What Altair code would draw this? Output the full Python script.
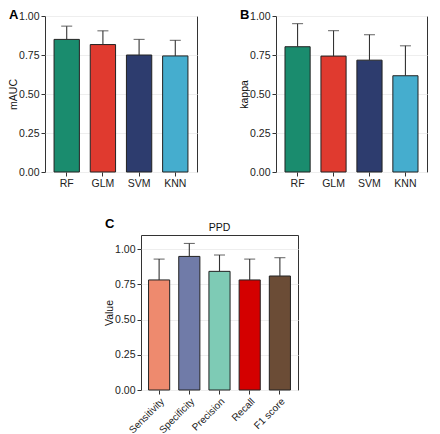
import altair as alt
import pandas as pd

# ---- data ----
models = ["RF", "GLM", "SVM", "KNN"]
model_colors = ["#1A8C6E", "#E03A2F", "#2D3C6E", "#45ADCE"]
mauc = [0.850, 0.817, 0.750, 0.744]
mauc_sd = [0.085, 0.088, 0.100, 0.100]
kappa = [0.803, 0.743, 0.717, 0.617]
kappa_sd = [0.148, 0.163, 0.163, 0.192]

metrics = ["Sensitivity", "Specificity", "Precision", "Recall", "F1 score"]
metric_colors = ["#EE8A6E", "#707BA8", "#7ECBB5", "#D40000", "#6B4C36"]
ppd = [0.781, 0.948, 0.842, 0.781, 0.809]
ppd_sd = [0.148, 0.092, 0.116, 0.148, 0.130]

y_ticks = [0, 0.25, 0.5, 0.75, 1.0]
FONT = "Liberation Sans"


def panel(cats, colors, vals, sds, ytitle, ydomain, letter, width, height,
          label_angle=0, title=None, xlabel_size=10.5):
    df = pd.DataFrame({"cat": cats, "value": vals, "sd": sds, "col": colors})
    df["upper"] = df["value"] + df["sd"]
    xscale = alt.Scale(paddingInner=0.3, paddingOuter=0.25)
    xaxis = alt.Axis(labelAngle=label_angle, grid=False, title=None,
                     labelFontSize=xlabel_size)
    xenc = alt.X("cat:N", sort=cats, title=None, scale=xscale, axis=xaxis)
    yscale = alt.Scale(domain=ydomain, nice=False, zero=True)
    yaxis = alt.Axis(values=y_ticks, format=".2f", title=ytitle, titlePadding=0,
                     labelOverlap=False, tickCount=5)
    base = alt.Chart(df)
    bars = base.mark_bar(stroke="#222222", strokeWidth=1).encode(
        x=xenc,
        y=alt.Y("value:Q", scale=yscale, axis=yaxis, title=ytitle),
        color=alt.Color("col:N", scale=None),
    )
    err = base.mark_rule(color="#333333", strokeWidth=1.1).encode(
        x=xenc, y=alt.Y("value:Q", scale=yscale, axis=yaxis, title=ytitle), y2="upper:Q")
    cap = base.mark_tick(orient="horizontal", size=11, thickness=1.1, color="#333333").encode(
        x=xenc, y=alt.Y("upper:Q", scale=yscale, axis=yaxis, title=ytitle))
    lab = alt.Chart(pd.DataFrame({"t": [letter]})).mark_text(
        align="left", baseline="top", fontSize=13, fontWeight="bold",
        font=FONT, color="#000000").encode(
        x=alt.value(-36), y=alt.value(-7 if title is None else -17), text="t:N")
    layers = [bars, err, cap, lab]
    if title is not None:
        ttl = alt.Chart(pd.DataFrame({"t": [title]})).mark_text(
            align="center", baseline="bottom", fontSize=10.5, font=FONT,
            color="#111111").encode(
            x=alt.value(width / 2), y=alt.value(-2), text="t:N")
        layers.append(ttl)
    return alt.layer(*layers).properties(width=width, height=height)


A = panel(models, model_colors, mauc, mauc_sd, "mAUC", [0, 1.0], "A", 152, 156)
B = panel(models, model_colors, kappa, kappa_sd, "kappa", [0, 1.0], "B", 151, 156)
C = panel(metrics, metric_colors, ppd, ppd_sd, "Value", [0, 1.1], "C", 157, 155,
          label_angle=-45, title="PPD", xlabel_size=10)

spacer = alt.Chart(pd.DataFrame({"a": [0]})).mark_point(opacity=0).encode(
    x=alt.value(0), y=alt.value(0)).properties(
    width=58, height=10, view=alt.ViewBackground(stroke="transparent"))

top = alt.hconcat(A, B, spacing=41)
bottom = alt.hconcat(spacer, C, spacing=0)
chart = alt.vconcat(top, bottom, spacing=28).properties(padding=0).configure_view(
    stroke="#333333", strokeWidth=1
).configure_axis(
    labelFont=FONT, titleFont=FONT, labelFontSize=10.5, titleFontSize=10.5,
    labelColor="#222222", titleColor="#111111", titleFontWeight="normal",
    tickColor="#333333", tickSize=4, labelPadding=2, domain=False,
    gridColor="#EEEEEE", gridWidth=1
)

chart.save("out.html", embed_options={"renderer": "svg", "actions": False})
